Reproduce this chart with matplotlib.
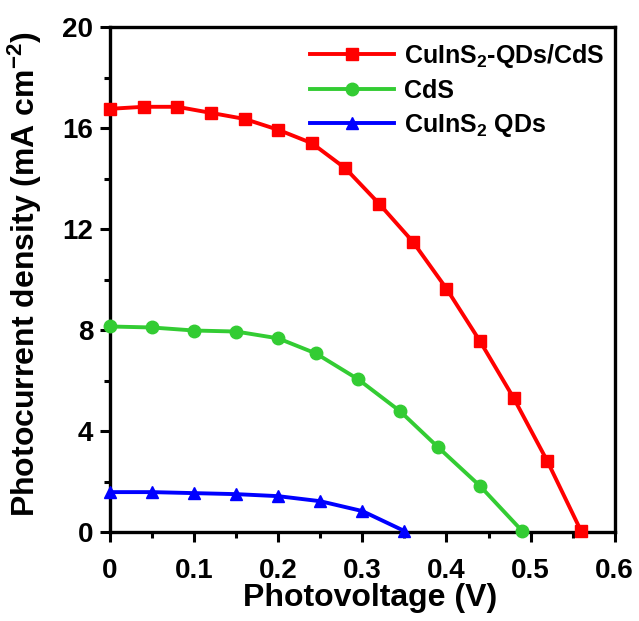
import matplotlib
matplotlib.use('Agg')
import matplotlib.pyplot as plt
from matplotlib.ticker import MultipleLocator, FuncFormatter

plt.rcParams['font.family'] = ['Liberation Sans', 'DejaVu Sans']
plt.rcParams['font.weight'] = 'bold'
plt.rcParams['mathtext.fontset'] = 'custom'
plt.rcParams['mathtext.bf'] = 'Liberation Sans:bold'
plt.rcParams['mathtext.rm'] = 'Liberation Sans:bold'
plt.rcParams['mathtext.default'] = 'bf'

# CuInS2-QDs/CdS
v_red = [0.0, 0.04, 0.08, 0.12, 0.16, 0.20, 0.24, 0.28, 0.32, 0.36, 0.40, 0.44, 0.48, 0.52, 0.56]
j_red = [16.76, 16.84, 16.84, 16.6, 16.36, 15.93, 15.4, 14.4, 13.0, 11.5, 9.64, 7.55, 5.3, 2.8, 0.04]
# CdS
v_green = [0.0, 0.05, 0.10, 0.15, 0.20, 0.245, 0.295, 0.345, 0.39, 0.44, 0.49]
j_green = [8.14, 8.1, 7.98, 7.94, 7.67, 7.07, 6.05, 4.78, 3.36, 1.82, 0.04]
# CuInS2 QDs
v_blue = [0.0, 0.05, 0.10, 0.15, 0.20, 0.25, 0.30, 0.35]
j_blue = [1.58, 1.58, 1.54, 1.5, 1.42, 1.22, 0.83, 0.04]

fig = plt.figure(figsize=(6.39, 6.21), dpi=100)
ax = fig.add_axes([0.172, 0.1433, 0.79, 0.8132])

ax.plot(v_red, j_red, color='#ff0000', lw=2.8, marker='s', ms=9,
        label=r'CuInS$_2$-QDs/CdS', clip_on=False, zorder=3)
ax.plot(v_green, j_green, color='#33cc33', lw=2.8, marker='o', ms=9,
        label='CdS', clip_on=False, zorder=3)
ax.plot(v_blue, j_blue, color='#0000ff', lw=2.8, marker='^', ms=9,
        label=r'CuInS$_2$ QDs', clip_on=False, zorder=3)

ax.set_xlim(0, 0.6)
ax.set_ylim(0, 20)
ax.xaxis.set_major_locator(MultipleLocator(0.1))
ax.xaxis.set_minor_locator(MultipleLocator(0.05))
ax.yaxis.set_major_locator(MultipleLocator(4))
ax.yaxis.set_minor_locator(MultipleLocator(2))
ax.xaxis.set_major_formatter(FuncFormatter(lambda v, p: '0' if abs(v) < 1e-9 else f'{v:.1f}'))

for s in ax.spines.values():
    s.set_linewidth(2.4)
ax.tick_params(which='major', direction='out', length=7, width=2.2, labelsize=20, pad=5)
ax.tick_params(axis='x', which='major', pad=12)
ax.tick_params(which='minor', direction='out', length=4.5, width=2.2)
for lab in ax.get_xticklabels() + ax.get_yticklabels():
    lab.set_fontweight('bold')

ax.set_xlabel('Photovoltage (V)', fontsize=23, fontweight='bold')
ax.set_ylabel(r'Photocurrent density (mA cm$^{-2}$)', fontsize=23, fontweight='bold')
ax.xaxis.set_label_coords(0.515, -0.1)
ax.yaxis.set_label_coords(-0.13, 0.51)

ax.legend(loc='upper right', bbox_to_anchor=(1.0, 0.99), frameon=False, fontsize=18,
          handlelength=3.36, borderaxespad=0.1, labelspacing=0.35, handletextpad=0.4,
          borderpad=0.3)

fig.savefig('out.png', dpi=100)
